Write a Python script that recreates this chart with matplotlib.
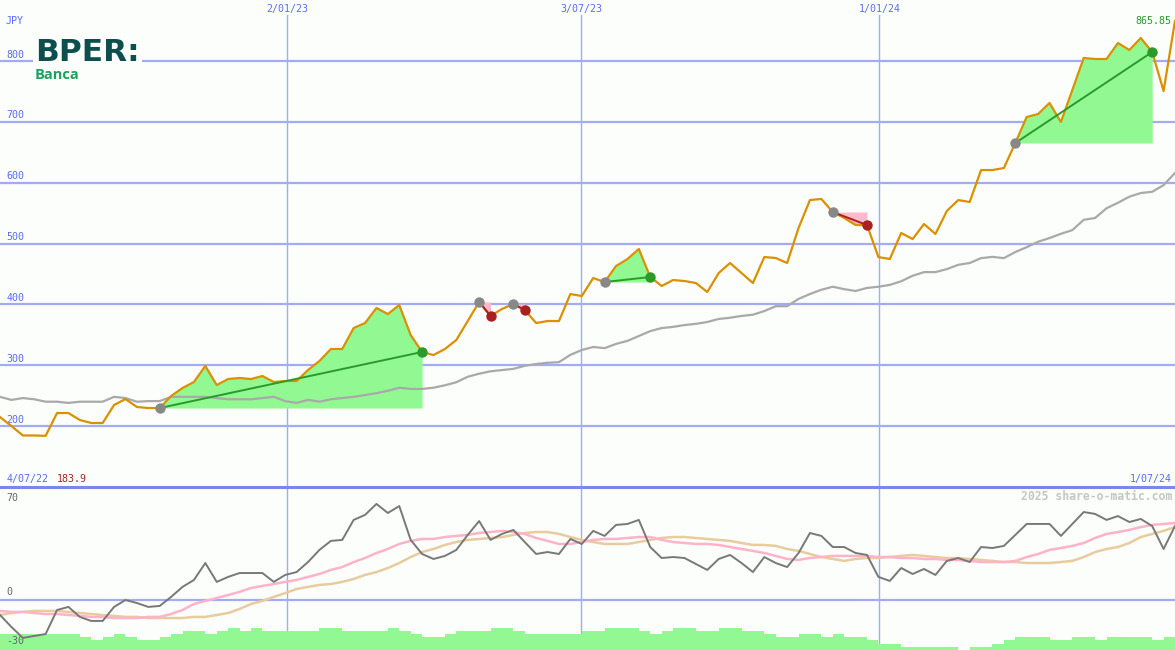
import numpy as np
import matplotlib
matplotlib.use("Agg")
import matplotlib.pyplot as plt
from matplotlib.lines import Line2D
from matplotlib.transforms import blended_transform_factory

# weekly closes, JPY (4/07/22 .. 1/07/24)
price = [214.8, 200.0, 184.5, 184.5, 183.9, 221.4, 221.4, 209.9, 205.0, 205.0,
         234.6, 244.4, 231.3, 229.6, 229.6, 249.4, 262.5, 272.4, 298.7, 267.4,
         277.3, 279.0, 277.3, 282.2, 272.4, 274.0, 274.0, 292.1, 306.9, 326.6,
         326.6, 361.1, 369.3, 394.0, 384.1, 398.9, 349.6, 321.7, 316.7, 326.6,
         341.4, 372.6, 403.9, 380.9, 392.4, 400.6, 390.7, 369.3, 372.6, 372.6,
         417.0, 413.7, 443.3, 436.7, 463.0, 474.5, 491.0, 445.0, 430.2, 440.0,
         438.4, 435.1, 420.3, 451.5, 468.0, 451.5, 435.1, 477.8, 476.2, 468.0,
         525.5, 571.5, 573.2, 551.8, 542.0, 530.4, 530.4, 477.8, 474.5, 517.3,
         507.4, 532.1, 515.7, 553.5, 571.5, 568.2, 620.8, 620.8, 624.1, 665.2,
         708.0, 712.9, 731.0, 699.8, 752.4, 805.0, 803.3, 803.3, 829.6, 818.1,
         837.8, 814.8, 750.7, 865.85]

# long moving average of the price
avg_long = [248, 243, 246, 244, 240, 240, 238, 240, 240, 240,
            248, 246, 240, 241, 241, 248, 248, 248, 248, 246,
            244, 244, 244, 246, 248, 241, 238, 243, 240, 244,
            246, 248, 251, 254, 258, 263, 261, 261, 263, 267,
            272, 281, 286, 290, 292, 294, 299, 302, 304, 305,
            317, 325, 330, 328, 335, 340, 348, 356, 361, 363,
            366, 368, 371, 376, 378, 381, 383, 389, 397, 397,
            409, 417, 424, 429, 425, 422, 427, 429, 432, 438,
            447, 453, 453, 458, 465, 468, 476, 478, 476, 486,
            494, 503, 509, 516, 522, 539, 542, 558, 567, 577,
            583, 585, 596, 616]

# oscillator (lower panel) and its two averages
osc = [-9.3, -16.7, -23.5, -22.3, -21.1, -6.2, -4.3, -10.5, -13.0, -13.0,
       -4.3, 0.0, -1.9, -4.3, -3.7, 1.9, 8.1, 12.4, 22.9, 11.2,
       14.3, 16.7, 16.7, 16.7, 11.2, 15.5, 17.3, 23.5, 31.0, 36.6,
       37.2, 49.6, 52.7, 59.5, 53.9, 58.2, 37.2, 28.5, 25.4, 27.3,
       31.0, 40.3, 48.9, 37.2, 40.9, 43.4, 35.9, 28.5, 29.7, 28.5,
       37.8, 34.7, 42.8, 39.7, 46.5, 47.1, 49.6, 32.8, 26.0, 26.6,
       26.0, 22.3, 18.6, 25.4, 27.9, 22.9, 17.3, 26.6, 22.9, 20.4,
       29.1, 41.5, 39.7, 32.8, 32.8, 29.1, 27.9, 14.3, 11.8, 19.8,
       16.1, 19.2, 15.5, 24.2, 26.0, 23.5, 32.8, 32.2, 33.5, 40.3,
       47.1, 47.1, 47.1, 39.7, 47.1, 54.5, 53.3, 49.6, 52.0, 48.3,
       50.2, 45.8, 31.6, 45.8]

osc_fast = [-6.8, -7.4, -7.4, -8.1, -8.7, -8.7, -9.3, -9.9, -10.5, -10.5,
            -11.2, -11.2, -11.2, -10.5, -10.5, -8.7, -6.2, -2.5, -0.6, 1.2,
            3.1, 5.0, 7.4, 8.7, 9.9, 11.2, 12.4, 14.3, 16.1, 18.6,
            20.4, 23.5, 26.0, 29.1, 31.6, 34.7, 36.6, 37.8, 37.8, 39.0,
            39.7, 40.3, 41.5, 42.1, 42.8, 42.1, 40.9, 38.4, 36.6, 34.7,
            34.7, 35.9, 37.2, 37.8, 37.8, 38.4, 39.0, 39.0, 37.2, 35.9,
            35.3, 34.7, 34.7, 34.1, 32.8, 31.6, 30.4, 29.1, 27.3, 25.4,
            24.8, 26.0, 26.6, 27.3, 27.3, 27.3, 27.3, 26.6, 26.6, 26.0,
            26.0, 25.4, 25.4, 24.8, 24.8, 24.2, 23.5, 23.5, 23.5, 24.2,
            26.6, 28.5, 31.0, 32.2, 33.5, 35.3, 38.4, 40.9, 42.1, 43.4,
            45.2, 46.5, 47.1, 47.7]

osc_slow = [-9.3, -8.1, -7.4, -6.8, -6.8, -6.8, -7.4, -8.1, -8.7, -9.3,
            -9.9, -10.5, -10.5, -11.2, -11.2, -11.2, -11.2, -10.5, -10.5, -9.3,
            -8.1, -5.6, -2.5, -0.6, 1.9, 4.3, 6.8, 8.1, 9.3, 9.9,
            11.2, 13.0, 15.5, 17.3, 19.8, 22.9, 26.6, 29.7, 31.6, 34.1,
            35.9, 37.2, 37.8, 38.4, 39.0, 40.3, 41.5, 42.1, 42.1, 40.9,
            39.0, 37.2, 35.9, 34.7, 34.7, 34.7, 35.9, 37.2, 38.4, 39.0,
            39.0, 38.4, 37.8, 37.2, 36.6, 35.3, 34.1, 34.1, 33.5, 31.6,
            30.4, 28.5, 26.6, 25.4, 24.2, 25.4, 26.0, 26.0, 26.6, 27.3,
            27.9, 27.3, 26.6, 26.0, 26.0, 25.4, 24.8, 24.2, 23.5, 23.5,
            22.9, 22.9, 22.9, 23.5, 24.2, 26.6, 29.7, 31.6, 32.8, 35.3,
            39.0, 40.9, 42.8, 45.2]

# weekly volume level (bars at the bottom)
volume = [5, 5, 5, 5, 5, 5, 5, 4, 3, 4,
          5, 4, 3, 3, 4, 5, 6, 6, 5, 6,
          7, 6, 7, 6, 6, 6, 6, 6, 7, 7,
          6, 6, 6, 6, 7, 6, 5, 4, 4, 5,
          6, 6, 6, 7, 7, 6, 5, 5, 5, 5,
          5, 6, 6, 7, 7, 7, 6, 5, 6, 7,
          7, 6, 6, 7, 7, 6, 6, 5, 4, 4,
          5, 5, 4, 5, 4, 4, 3, 2, 2, 1,
          1, 1, 1, 1, 0, 1, 1, 2, 3, 4,
          4, 4, 3, 3, 4, 4, 3, 4, 4, 4,
          4, 3, 4]

# (entry week, exit week) of each signal
trades = [(14, 37), (42, 43), (45, 46), (53, 57), (73, 76), (89, 101)]

price_levels = [200, 300, 400, 500, 600, 700, 800]
osc_levels = [70, 0, -30]
date_labels = ["2/01/23", "3/07/23", "1/01/24"]
date_weeks = [25.15, 50.95, 77.08]
first_date, last_date = "4/07/22", "1/07/24"
low_price = 183.9

bg = "#fbfefb"
grid_c = "#a3acf2"
label_c = "#5a6cf0"
mono = "DejaVu Sans Mono"

W, H, split = 1175, 650, 487
fig = plt.figure(figsize=(W / 100, H / 100), dpi=100)
fig.patch.set_facecolor(bg)

ax = fig.add_axes([0, (H - split) / H, 1, split / H])
axv = fig.add_axes([0, 0, 1, (H - split) / H])
ax2 = fig.add_axes([0, 0, 1, (H - split) / H])
for a in (ax, axv, ax2):
    a.set_axis_off()
    a.set_xlim(0, len(price) - 1)

x = np.arange(len(price))
p = np.array(price)

# ---- top panel
ax.set_ylim(99.8, 900.3)
for lv in price_levels:
    ax.axhline(lv, color=grid_c, lw=1.6, zorder=1)
    ax.annotate(str(lv), xy=(0, lv), xycoords=("axes fraction", "data"),
                xytext=(4.5, 1), textcoords="offset points", va="bottom",
                fontsize=7.2, family=mono, color=label_c)
tr = blended_transform_factory(ax.transData, ax.transAxes)
for wk, lab in zip(date_weeks, date_labels):
    ax.axvline(wk, ymax=0.969, color=grid_c, lw=1, zorder=1)
    ax.text(wk, 1 - 9 / split, lab, transform=tr, ha="center", va="center",
            fontsize=7.2, family=mono, color=label_c)

for s, e in trades:
    xs, ps, base = x[s:e + 1], p[s:e + 1], p[s]
    gain = p[e] > p[s]
    if gain:
        ax.fill_between(xs, ps, base, where=ps >= base, interpolate=True,
                        color="#92f992", lw=0, zorder=2)
    else:
        ax.fill_between(xs, ps, base, where=ps <= base, interpolate=True,
                        color="#ffb8cc", lw=0, zorder=2)

ax.plot(x, avg_long, color="#a9a9a9", lw=1.6, zorder=3)
ax.plot(x, price, color="#dc9000", lw=1.6, zorder=4)

for s, e in trades:
    gain = p[e] > p[s]
    c = "#2a9a2a" if gain else "#a82020"
    ax.plot([s, e], [p[s], p[e]], color=c, lw=1.4, zorder=5)
    ax.plot(s, p[s], "o", color="#888888", ms=7.5, mec="none", zorder=6)
    ax.plot(e, p[e], "o", color=c, ms=7.5, mec="none", zorder=6)

ax.text(0.997, 1 - 21 / split, f"{price[-1]:.2f}", transform=ax.transAxes,
        ha="right", va="center", fontsize=7.2, family=mono, color="#2a962a")
ax.text(0.005, 1 - 21 / split, "JPY", transform=ax.transAxes, ha="left",
        va="center", fontsize=7.2, family=mono, color=label_c)
ax.text(0.006, 8 / split, first_date, transform=ax.transAxes, ha="left",
        va="center", fontsize=7.2, family=mono, color=label_c)
ax.text(0.048, 8 / split, f"{low_price}", transform=ax.transAxes, ha="left",
        va="center", fontsize=7.2, family=mono, color="#aa2222")
ax.text(0.997, 8 / split, last_date, transform=ax.transAxes, ha="right",
        va="center", fontsize=7.2, family=mono, color=label_c)

# ---- bottom panel
axv.set_ylim(0, 51)
for wk in date_weeks:
    axv.axvline(wk, color=grid_c, lw=1, zorder=1)
axv.bar(x[:-1], volume, width=1, align="edge", color="#92f992", lw=0, zorder=2)

ax2.set_ylim(-31, 70)
ax2.axhline(0, color=grid_c, lw=1.6, zorder=1)
ax2.plot(x, osc_slow, color="#e8cc9e", lw=1.8, zorder=2)
ax2.plot(x, osc_fast, color="#ffb3c9", lw=1.8, zorder=3)
ax2.plot(x, osc, color="#787878", lw=1.4, zorder=4)
offs = {70: (-4, "top"), 0: (2, "bottom"), -30: (2, "bottom")}
for lv in osc_levels:
    dy, va = offs[lv]
    ax2.annotate(str(lv), xy=(0, lv), xycoords=("axes fraction", "data"),
                 xytext=(4.5, dy), textcoords="offset points", va=va,
                 fontsize=7.2, family=mono, color="#666666")
ax2.text(0.9975, 1 - 9 / (H - split), "2025 share-o-matic.com",
         transform=ax2.transAxes, ha="right", va="center", fontsize=8.3,
         weight="bold", family=mono, color="#c6c6c6")

fig.add_artist(Line2D([0, 1], [(H - split) / H] * 2, color="#7888ec", lw=2.2))

# logo
fig.text(35 / W, 1 - 61 / H, "BPER:", fontsize=22.5, weight="bold",
         family="DejaVu Sans", color="#0d4f4f", va="baseline",
         bbox=dict(facecolor=bg, edgecolor="none", pad=1.5))
fig.text(35 / W, 1 - 79 / H, "Banca", fontsize=10.5, weight="bold",
         family="Open Sans", color="#17a35c", va="baseline")

fig.savefig("out.png", dpi=100, facecolor=bg)
